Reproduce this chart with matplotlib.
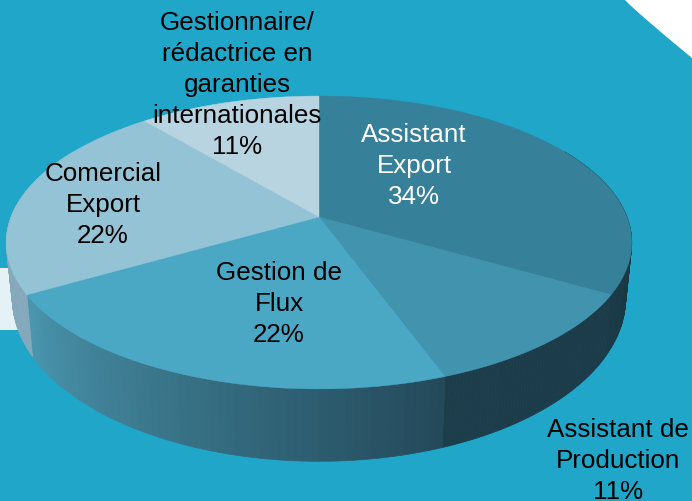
import numpy as np
import matplotlib
matplotlib.use('Agg')
import matplotlib.pyplot as plt
from matplotlib.patches import Polygon
from matplotlib.colors import to_rgb

plt.rcParams['font.family'] = ['Liberation Sans', 'DejaVu Sans']

labels = ['Assistant\nExport\n34%', 'Assistant de\nProduction\n11%',
          'Gestion de\nFlux\n22%', 'Comercial\nExport\n22%',
          'Gestionnaire/\nrédactrice en\ngaranties\ninternationales\n11%']
values = [3, 1, 2, 2, 1]
top_colors = ['#37809a', '#4193ae', '#4aa8c5', '#94c3d6', '#b9d4e1']
# wall gradient colours: start and end of each slice, clockwise
wall_start = ['#14303a', '#1c3b49', '#24495a', '#85a9bb', '#85a9bb']
wall_end = ['#1a3a46', '#1d3d4b', '#4a96ae', '#85a9bb', '#85a9bb']
label_xy = [(414, 166), (618, 461), (279, 304), (103, 205), (237, 85)]
label_colors = ['white', 'black', 'black', 'black', 'black']

W, H = 692, 501
fig = plt.figure(figsize=(W / 100, H / 100), dpi=100, facecolor='white')
ax = fig.add_axes([0, 0, 1, 1])
ax.set_xlim(0, W)
ax.set_ylim(H, 0)
ax.axis('off')

# backdrop
cx = np.linspace(625, 692, 30)
cy = 58 * ((cx - 625) / 67) ** 0.95
ax.add_patch(Polygon(np.r_[[[0, 0]], np.c_[cx, cy], [[692, 501], [0, 501]]],
                     fc='#20a6c8', ec='none', zorder=0))
ax.add_patch(Polygon([[0, 268], [40, 268], [40, 330], [0, 330]], fc='#e4f1f7', ec='none', zorder=1))


def top(a):
    X, Y = np.sin(a), np.cos(a)
    d = 1 + 0.174 * Y
    return np.c_[319 + 308 * X / d, 217 - 142 * Y / d]


def bottom(a):
    X, Y = np.sin(a), np.cos(a)
    d = 1 + 0.174 * Y
    return np.c_[319 + 302 * X / d, 270 - 158 * Y / d]


edges = np.deg2rad(np.r_[0, np.cumsum(values)] / sum(values) * 360)
lim_lo, lim_hi = np.deg2rad(60), np.deg2rad(300)

# side walls
for i in range(len(values)):
    a0, a1 = max(edges[i], lim_lo), min(edges[i + 1], lim_hi)
    if a1 <= a0:
        continue
    n = 60
    t = np.linspace(a0, a1, n + 1)
    c0, c1 = np.array(to_rgb(wall_start[i])), np.array(to_rgb(wall_end[i]))
    for j in range(n):
        seg = t[j:j + 2]
        f = j / (n - 1)
        col = c0 * (1 - f) + c1 * f
        pts = np.r_[top(seg), bottom(seg)[::-1]]
        ax.add_patch(Polygon(pts, fc=col, ec=col, lw=0.5, zorder=2 + i * 0.01))

# top faces
for i in range(len(values)):
    t = np.linspace(edges[i], edges[i + 1], 120)
    pts = np.r_[[[319, 217]], top(t)]
    ax.add_patch(Polygon(pts, fc=top_colors[i], ec=top_colors[i], lw=0.3, zorder=3))

for lab, (x, y), c in zip(labels, label_xy, label_colors):
    ax.text(x, y, lab, ha='center', va='center', color=c, fontsize=18.7,
            linespacing=1.36, zorder=5)

fig.savefig('out.png', dpi=100, facecolor='white')
